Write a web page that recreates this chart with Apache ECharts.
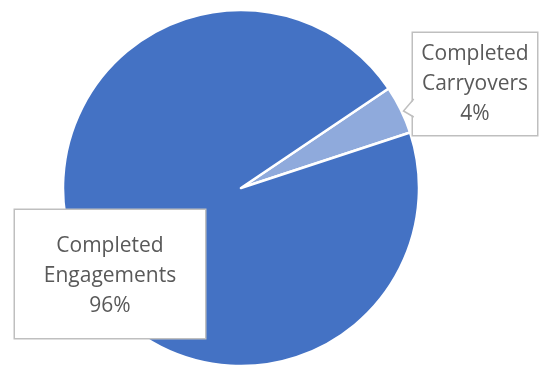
<!DOCTYPE html>
<html><head><meta charset="utf-8">
<script src="https://cdn.jsdelivr.net/npm/echarts@6/dist/echarts.min.js"></script>
<style>html,body{margin:0;padding:0;background:#fff}#c{width:540px;height:367px}</style>
</head><body><div id="c"></div>
<script>
var categories = ['Completed Carryovers', 'Completed Engagements'];
var values = [4.4, 95.6];
var colors = ['#8FAADC', '#4472C4'];

var labelBoxes = [
  {x: 413, y: 33, w: 124, pad: [6, 0, 6, 0]},
  {x: 15, y: 210, w: 190, pad: [21, 0, 17, 0]}
];

var chart = echarts.init(document.getElementById('c'), null, {renderer: 'canvas'});
chart.setOption({
  animation: false,
  graphic: [
    {type: 'polygon', z: 100, shape: {points: [[415, 99], [403.5, 111], [415, 117]]}, style: {fill: '#fff', stroke: null}},
    {type: 'polyline', z: 101, shape: {points: [[413.75, 99], [403.5, 111], [413.75, 117]]}, style: {stroke: '#bfbfbf', lineWidth: 1.5, fill: null}}
  ],
  series: [{
    type: 'pie',
    center: [241, 188],
    radius: 178,
    startAngle: 34,
    clockwise: true,
    data: categories.map(function (n, i) {
      return {
        name: n, value: values[i],
        itemStyle: {color: colors[i]},
        label: {width: labelBoxes[i].w, padding: labelBoxes[i].pad, position: i === 0 ? 'outside' : 'inside'},
        labelLine: {show: false}
      };
    }),
    itemStyle: {borderColor: '#fff', borderWidth: 2.5},
    label: {
      show: true,
      formatter: function (p) {
        var parts = p.name.split(' ');
        return parts[0] + '\n' + parts[1] + '\n' + Math.round(p.percent) + '%';
      },
      fontFamily: 'Open Sans',
      fontSize: 21,
      lineHeight: 30,
      color: '#595959',
      align: 'center',
      backgroundColor: '#fff',
      borderColor: '#bfbfbf',
      borderWidth: 1.5
    },
    labelLayout: function (params) {
      var b = labelBoxes[params.dataIndex];
      return {x: b.x + b.w / 2, y: b.y, align: 'center', verticalAlign: 'top', moveOverlap: false, hideOverlap: false};
    },
    emphasis: {disabled: true}
  }]
});
</script></body></html>
